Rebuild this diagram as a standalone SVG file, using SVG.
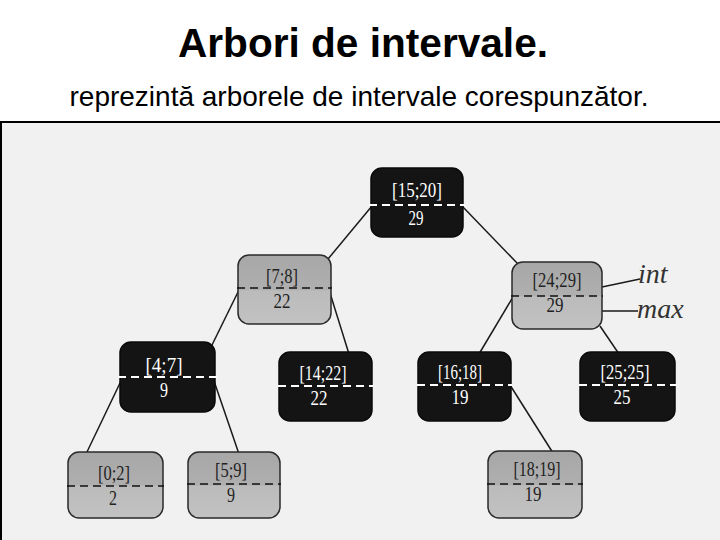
<svg xmlns="http://www.w3.org/2000/svg" width="720" height="540" viewBox="0 0 720 540">
<defs>
<linearGradient id="gg" x1="0" y1="0" x2="0" y2="1">
<stop offset="0" stop-color="#a7a7a7"/>
<stop offset="0.5" stop-color="#afafaf"/>
<stop offset="0.52" stop-color="#bbbbbb"/>
<stop offset="1" stop-color="#c2c2c2"/>
</linearGradient>
<style>
.title{font-family:"Liberation Sans",Arial,sans-serif;font-weight:bold;font-size:40px;fill:#000;text-anchor:middle}
.sub{font-family:"Liberation Sans",Arial,sans-serif;font-size:28px;fill:#000;text-anchor:middle}
.blk{fill:#141414;stroke:#0a0a0a;stroke-width:1.5}
.gry{fill:url(#gg);stroke:#2a2a2a;stroke-width:1.5}
.dw{stroke:#ffffff;stroke-width:2;stroke-dasharray:8 5}
.dk{stroke:#111111;stroke-width:1.6;stroke-dasharray:8 5}
.tw{font-family:"Liberation Serif","Times New Roman",serif;font-size:22px;fill:#ffffff;text-anchor:middle}
.tk{font-family:"Liberation Serif","Times New Roman",serif;font-size:22px;fill:#222222;text-anchor:middle}
.edge{stroke:#1a1a1a;stroke-width:1.5;fill:none}
.lbl{font-family:"Liberation Serif","Times New Roman",serif;font-style:italic;font-size:28px;fill:#333333}
</style>
</defs>
<rect width="720" height="540" fill="#ffffff"/>
<text class="title" x="363" y="57" textLength="370" lengthAdjust="spacingAndGlyphs">Arbori de intervale.</text>
<text class="sub" x="359" y="106">reprezintă arborele de intervale corespunzător.</text>
<rect x="1" y="122" width="720" height="419" fill="#f1f1f1"/>
<line x1="0" y1="122" x2="720" y2="122" stroke="#000" stroke-width="2"/>
<line x1="1" y1="122" x2="1" y2="540" stroke="#000" stroke-width="2"/>

<g id="connectors">
<line class="edge" x1="372" y1="206" x2="328" y2="259"/>
<line class="edge" x1="462" y1="206" x2="518" y2="264"/>
<line class="edge" x1="239" y1="290" x2="212" y2="345"/>
<line class="edge" x1="330" y1="293" x2="349" y2="354"/>
<line class="edge" x1="513" y1="297" x2="479" y2="354"/>
<line class="edge" x1="600" y1="326" x2="619" y2="354"/>
<line class="edge" x1="121" y1="381" x2="86" y2="454"/>
<line class="edge" x1="214" y1="381" x2="239" y2="454"/>
<line class="edge" x1="510" y1="385" x2="553" y2="453"/>
<line class="edge" x1="602" y1="287" x2="640" y2="279"/>
<line class="edge" x1="602" y1="311" x2="638" y2="311"/>
</g>

<g id="node-15-20">
<rect class="blk" x="371" y="168" width="92" height="69" rx="11"/>
<line class="dw" x1="369" y1="205" x2="465" y2="205"/>
<text class="tw" x="417" y="197" textLength="50" lengthAdjust="spacingAndGlyphs">[15;20]</text>
<text class="tw" x="416" y="225" textLength="15" lengthAdjust="spacingAndGlyphs">29</text>
</g>
<g id="node-7-8">
<rect class="gry" x="238" y="255" width="93" height="69" rx="11"/>
<line class="dk" x1="237" y1="288" x2="332" y2="288"/>
<text class="tk" x="282" y="283" textLength="32" lengthAdjust="spacingAndGlyphs">[7;8]</text>
<text class="tk" x="282" y="308" textLength="17" lengthAdjust="spacingAndGlyphs">22</text>
</g>
<g id="node-24-29">
<rect class="gry" x="512" y="262" width="90" height="67" rx="11"/>
<line class="dk" x1="511" y1="296" x2="603" y2="296"/>
<text class="tk" x="557" y="287" textLength="49" lengthAdjust="spacingAndGlyphs">[24;29]</text>
<text class="tk" x="555" y="312" textLength="17" lengthAdjust="spacingAndGlyphs">29</text>
</g>
<g id="node-4-7">
<rect class="blk" x="120" y="342" width="95" height="70" rx="11"/>
<line class="dw" x1="118" y1="377" x2="217" y2="377"/>
<text class="tw" x="164" y="372" textLength="37" lengthAdjust="spacingAndGlyphs">[4;7]</text>
<text class="tw" x="164" y="397" textLength="8" lengthAdjust="spacingAndGlyphs">9</text>
</g>
<g id="node-14-22">
<rect class="blk" x="279" y="352" width="93" height="69" rx="11"/>
<line class="dw" x1="278" y1="386" x2="373" y2="386"/>
<text class="tw" x="323" y="380" textLength="47" lengthAdjust="spacingAndGlyphs">[14;22]</text>
<text class="tw" x="319" y="405" textLength="17" lengthAdjust="spacingAndGlyphs">22</text>
</g>
<g id="node-16-18">
<rect class="blk" x="418" y="352" width="93" height="69" rx="11"/>
<line class="dw" x1="417" y1="385" x2="512" y2="385"/>
<text class="tw" x="460" y="379" textLength="44" lengthAdjust="spacingAndGlyphs">[16;18]</text>
<text class="tw" x="460" y="404" textLength="17" lengthAdjust="spacingAndGlyphs">19</text>
</g>
<g id="node-25-25">
<rect class="blk" x="580" y="352" width="95" height="69" rx="11"/>
<line class="dw" x1="579" y1="385" x2="676" y2="385"/>
<text class="tw" x="625" y="379" textLength="49" lengthAdjust="spacingAndGlyphs">[25;25]</text>
<text class="tw" x="622" y="404" textLength="17" lengthAdjust="spacingAndGlyphs">25</text>
</g>
<g id="node-0-2">
<rect class="gry" x="68" y="452" width="95" height="66" rx="11"/>
<line class="dk" x1="67" y1="486" x2="164" y2="486"/>
<text class="tk" x="114" y="480" textLength="32" lengthAdjust="spacingAndGlyphs">[0;2]</text>
<text class="tk" x="113" y="505" textLength="8" lengthAdjust="spacingAndGlyphs">2</text>
</g>
<g id="node-5-9">
<rect class="gry" x="188" y="452" width="92" height="66" rx="11"/>
<line class="dk" x1="187" y1="484" x2="281" y2="484"/>
<text class="tk" x="231" y="477" textLength="32" lengthAdjust="spacingAndGlyphs">[5;9]</text>
<text class="tk" x="231" y="502" textLength="8" lengthAdjust="spacingAndGlyphs">9</text>
</g>
<g id="node-18-19">
<rect class="gry" x="488" y="451" width="94" height="67" rx="11"/>
<line class="dk" x1="487" y1="484" x2="583" y2="484"/>
<text class="tk" x="537" y="476" textLength="47" lengthAdjust="spacingAndGlyphs">[18;19]</text>
<text class="tk" x="533" y="501" textLength="17" lengthAdjust="spacingAndGlyphs">19</text>
</g>
<g id="legend">
<text class="lbl" x="638" y="283">int</text>
<text class="lbl" x="637" y="318">max</text>
</g>
</svg>
